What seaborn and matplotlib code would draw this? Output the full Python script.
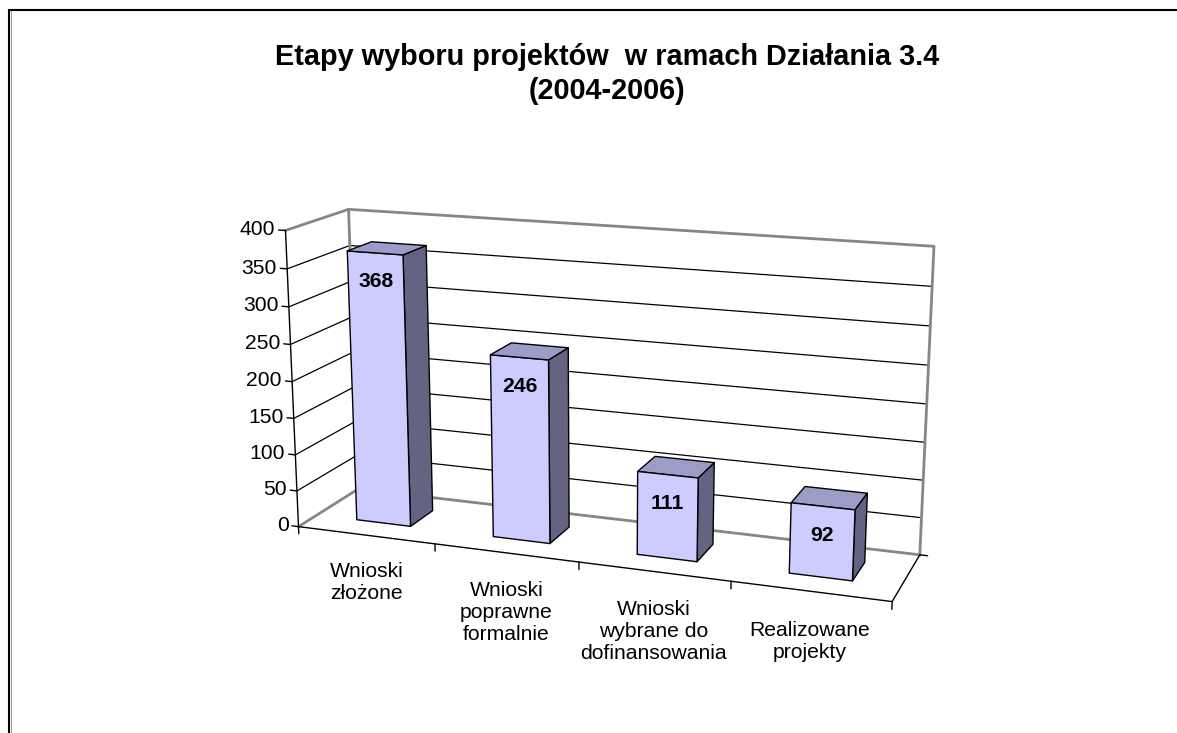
import matplotlib
matplotlib.use("Agg")
import matplotlib.pyplot as plt
import seaborn as sns
from matplotlib.lines import Line2D
from mpl_toolkits.mplot3d.art3d import Poly3DCollection

# --- data -------------------------------------------------------------
categories = ["Wnioski\nzłożone",
              "Wnioski\npoprawne\nformalnie",
              "Wnioski\nwybrane do\ndofinansowania",
              "Realizowane\nprojekty"]
values = [368, 246, 111, 92]
value_ticks = [0, 50, 100, 150, 200, 250, 300, 350, 400]
title_lines = ["Etapy wyboru projektów  w ramach Działania 3.4", "(2004-2006)"]

# --- style ------------------------------------------------------------
sns.set_theme(style="white")
plt.rcParams["font.family"] = ["Liberation Sans", "DejaVu Sans"]
plt.rcParams["text.color"] = "black"

FRONT = "#CCCCFF"
SIDE = "#646482"
TOP = "#9C9CC8"
WALL_EDGE = "#868686"
FS = 15.2

W, H = 1177, 733
fig = plt.figure(figsize=(W / 100, H / 100), dpi=100)
fig.patch.set_facecolor("white")

# square 3D axes centred on the plot area
side = 700
cx, cy = 593, 402
ax = fig.add_axes([(cx - side / 2) / W, (H - cy - side / 2) / H, side / W, side / H],
                  projection="3d", computed_zorder=False)
ax.set_axis_off()
ax.view_init(elev=15, azim=-70)
ax.set_proj_type("persp", focal_length=0.5)

n = len(categories)
depth = 0.87
zmax = value_ticks[-1]
ax.set_box_aspect((n, depth, 2.0), zoom=0.988)


def seg(pts, **kw):
    xs, ys, zs = zip(*pts)
    ax.plot(xs, ys, zs, **kw)


# gridlines on side wall and back wall
for t in value_ticks[1:-1]:
    seg([(0, 0, t), (0, depth, t), (n, depth, t)], color="black", lw=0.9, zorder=1)

# wall and floor outlines
wall_kw = dict(color=WALL_EDGE, lw=2.0, zorder=2, solid_capstyle="projecting")
seg([(0, 0, zmax), (0, depth, zmax), (n, depth, zmax), (n, depth, 0)], **wall_kw)
seg([(0, depth, zmax), (0, depth, 0)], **wall_kw)
seg([(0, 0, 0), (0, depth, 0), (n, depth, 0)], **wall_kw)

# value axis with ticks and labels
seg([(0, 0, 0), (0, 0, zmax)], color="black", lw=1.0, zorder=3)
for t in value_ticks:
    seg([(0, 0, t), (-0.05, 0, t)], color="black", lw=1.0, zorder=3)
    ax.text(-0.075, 0, t, f"{t}", ha="right", va="center", fontsize=FS, zorder=6)

# category axis and depth edge
seg([(0, 0, 0), (n, 0, 0), (n, depth, 0)], color="black", lw=1.0, zorder=3)
for i in range(n + 1):
    seg([(i, 0, 0), (i, 0, -10)], color="black", lw=1.0, zorder=3)
seg([(n, depth, 0), (n + 0.05, depth, 0)], color="black", lw=1.0, zorder=3)

# bars: front, right and top faces
bw = 0.4
y0, y1 = 0.3 * depth, 0.7 * depth
for i, v in enumerate(values):
    x0, x1 = i + 0.5 - bw / 2, i + 0.5 + bw / 2
    front = [(x0, y0, 0), (x1, y0, 0), (x1, y0, v), (x0, y0, v)]
    right = [(x1, y0, 0), (x1, y1, 0), (x1, y1, v), (x1, y0, v)]
    top = [(x0, y0, v), (x1, y0, v), (x1, y1, v), (x0, y1, v)]
    pc = Poly3DCollection([right, top, front], facecolors=[SIDE, TOP, FRONT],
                          edgecolors="black", linewidths=1.0, zorder=4 + i * 0.01)
    ax.add_collection3d(pc)
    ax.text(i + 0.5, y0, v - 38, f"{v}", ha="center", va="center",
            fontsize=FS, fontweight="bold", zorder=6)
    ax.text(i + 0.5, 0, -38, categories[i], ha="center", va="top",
            fontsize=FS, linespacing=1.2, zorder=6)

ax.set_xlim(0, n)
ax.set_ylim(0, depth)
ax.set_zlim(0, zmax)

# title
fig.text(607 / W, 1 - 65 / H, title_lines[0], ha="center", va="baseline",
         fontsize=20.8, fontweight="bold")
fig.text(607 / W, 1 - 99 / H, title_lines[1], ha="center", va="baseline",
         fontsize=20.8, fontweight="bold")

# chart frame
fig.add_artist(Line2D([9 / W, 1], [1 - 10 / H, 1 - 10 / H], color="black", lw=1.5))
fig.add_artist(Line2D([9 / W, 9 / W], [0, 1 - 10 / H], color="black", lw=1.5))
fig.add_artist(Line2D([10.5 / W, 10.5 / W], [0, 1 - 11 / H], color="#a0a0a0", lw=0.8))

fig.savefig("out.png", dpi=100)
